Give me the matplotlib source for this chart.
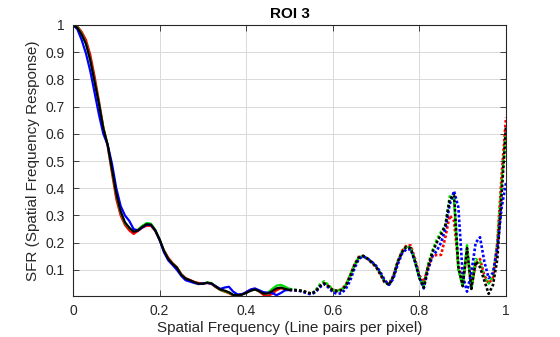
import numpy as np
import matplotlib
matplotlib.use("Agg")
import matplotlib.pyplot as plt

freq = [round(0.01 * i, 2) for i in range(101)]

black = [1.000, 0.990, 0.965, 0.930, 0.870, 0.790, 0.710, 0.620, 0.560, 0.470,
         0.380, 0.315, 0.275, 0.255, 0.240, 0.245, 0.258, 0.268, 0.266, 0.245,
         0.212, 0.170, 0.140, 0.122, 0.108, 0.082, 0.068, 0.062, 0.055, 0.049,
         0.049, 0.053, 0.050, 0.038, 0.028, 0.024, 0.018, 0.008, 0.007, 0.009,
         0.015, 0.023, 0.028, 0.022, 0.013, 0.013, 0.022, 0.032, 0.035, 0.030,
         0.026, 0.026, 0.025, 0.023, 0.018, 0.013, 0.020, 0.040, 0.050, 0.040,
         0.025, 0.022, 0.025, 0.040, 0.075, 0.115, 0.145, 0.152, 0.142, 0.128,
         0.112, 0.085, 0.055, 0.045, 0.075, 0.130, 0.165, 0.185, 0.180, 0.130,
         0.070, 0.035, 0.110, 0.165, 0.200, 0.230, 0.265, 0.360, 0.375, 0.110,
         0.040, 0.180, 0.030, 0.130, 0.110, 0.060, 0.012, 0.045, 0.140, 0.380,
         0.630]

red = [1.000, 0.995, 0.975, 0.945, 0.890, 0.810, 0.720, 0.625, 0.555, 0.455,
       0.360, 0.300, 0.265, 0.245, 0.232, 0.243, 0.255, 0.262, 0.262, 0.243,
       0.210, 0.172, 0.145, 0.125, 0.110, 0.085, 0.070, 0.063, 0.056, 0.052,
       0.050, 0.052, 0.048, 0.036, 0.026, 0.020, 0.014, 0.006, 0.005, 0.010,
       0.018, 0.026, 0.030, 0.020, 0.008, 0.004, 0.012, 0.025, 0.032, 0.030,
       0.027, 0.026, 0.024, 0.022, 0.016, 0.012, 0.022, 0.042, 0.052, 0.040,
       0.026, 0.024, 0.028, 0.045, 0.080, 0.120, 0.148, 0.150, 0.140, 0.126,
       0.110, 0.082, 0.052, 0.048, 0.080, 0.130, 0.170, 0.190, 0.190, 0.140,
       0.080, 0.055, 0.110, 0.150, 0.155, 0.155, 0.220, 0.300, 0.280, 0.120,
       0.050, 0.170, 0.040, 0.120, 0.140, 0.080, 0.050, 0.070, 0.200, 0.450,
       0.660]

green = [1.000, 0.992, 0.968, 0.932, 0.872, 0.792, 0.712, 0.622, 0.560, 0.468,
         0.378, 0.312, 0.272, 0.254, 0.242, 0.248, 0.262, 0.272, 0.270, 0.247,
         0.212, 0.170, 0.140, 0.123, 0.108, 0.083, 0.068, 0.061, 0.053, 0.048,
         0.049, 0.054, 0.051, 0.038, 0.027, 0.022, 0.016, 0.008, 0.007, 0.010,
         0.016, 0.024, 0.029, 0.022, 0.014, 0.016, 0.030, 0.042, 0.045, 0.038,
         0.030, 0.027, 0.025, 0.022, 0.016, 0.012, 0.024, 0.046, 0.058, 0.044,
         0.027, 0.024, 0.028, 0.044, 0.080, 0.118, 0.146, 0.150, 0.140, 0.128,
         0.112, 0.085, 0.056, 0.046, 0.078, 0.132, 0.168, 0.186, 0.182, 0.132,
         0.072, 0.040, 0.120, 0.170, 0.210, 0.240, 0.260, 0.370, 0.360, 0.100,
         0.040, 0.190, 0.030, 0.140, 0.130, 0.070, 0.050, 0.080, 0.200, 0.420,
         0.600]

blue = [1.000, 0.985, 0.945, 0.895, 0.830, 0.750, 0.670, 0.600, 0.560, 0.490,
        0.400, 0.335, 0.300, 0.280, 0.250, 0.245, 0.256, 0.266, 0.265, 0.245,
        0.210, 0.165, 0.135, 0.118, 0.100, 0.078, 0.062, 0.057, 0.052, 0.048,
        0.050, 0.052, 0.049, 0.040, 0.030, 0.035, 0.038, 0.020, 0.010, 0.010,
        0.018, 0.028, 0.032, 0.025, 0.018, 0.016, 0.015, 0.007, 0.015, 0.025,
        0.026, 0.025, 0.024, 0.020, 0.014, 0.010, 0.018, 0.036, 0.048, 0.035,
        0.018, 0.012, 0.014, 0.030, 0.060, 0.105, 0.140, 0.150, 0.142, 0.130,
        0.115, 0.092, 0.062, 0.045, 0.068, 0.120, 0.160, 0.176, 0.175, 0.130,
        0.072, 0.032, 0.100, 0.150, 0.170, 0.200, 0.250, 0.340, 0.390, 0.330,
        0.080, 0.020, 0.090, 0.200, 0.220, 0.130, 0.070, 0.090, 0.180, 0.330,
        0.420]

series = [("#ff0000", red), ("#00dd00", green), ("#0000ff", blue), ("#000000", black)]
cutoff = 0.5

plt.rcParams['font.family'] = ['Liberation Sans', 'DejaVu Sans']
fig = plt.figure(figsize=(5.6, 3.37), dpi=100)
ax = fig.add_axes([73/560, 1 - 296/337, 433/560, 271/337])

f = np.array(freq)
lo = f <= cutoff + 1e-9
hi = f >= cutoff - 1e-9
for col, vals in series:
    v = np.array(vals)
    ax.plot(f[lo], v[lo], color=col, lw=1.6, solid_capstyle='round')
    ax.plot(f[hi], v[hi], color=col, lw=1.9, linestyle=(0, (1.0, 0.8)))

ax.set_xlim(0, 1)
ax.set_ylim(0.004, 1)
ax.set_xticks([0, 0.2, 0.4, 0.6, 0.8, 1.0])
ax.set_xticklabels(['0', '0.2', '0.4', '0.6', '0.8', '1'])
yt = [0.1, 0.2, 0.3, 0.4, 0.5, 0.6, 0.7, 0.8, 0.9, 1.0]
ax.set_yticks(yt)
ax.set_yticklabels(['0.1', '0.2', '0.3', '0.4', '0.5', '0.6', '0.7', '0.8', '0.9', '1'])
ax.grid(True, color='#d9d9d9', lw=0.7)
ax.set_axisbelow(True)
axc = '#262626'
for s in ax.spines.values():
    s.set_color(axc)
    s.set_linewidth(0.8)
ax.tick_params(direction='in', top=True, right=True, length=4, width=0.6,
               colors=axc, labelsize=10, pad=6)
ax.set_xlabel('Spatial Frequency (Line pairs per pixel)', fontsize=11, color=axc, labelpad=2)
ax.set_ylabel('SFR (Spatial Frequency Response)', fontsize=11, color=axc, labelpad=4)
ax.set_title('ROI 3', fontsize=11, fontweight='bold', color='black', pad=5)

fig.savefig('out.png', dpi=100)
